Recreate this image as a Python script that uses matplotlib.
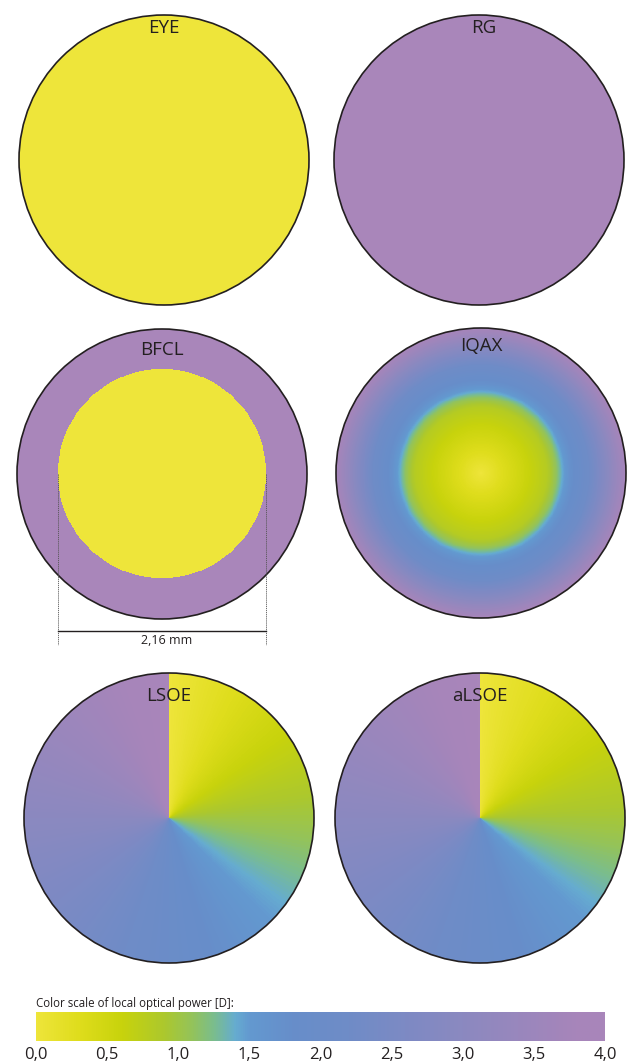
import matplotlib
matplotlib.use("Agg")
import matplotlib.pyplot as plt
import numpy as np
from matplotlib.colors import LinearSegmentedColormap
from matplotlib.patches import Circle

plt.rcParams['font.family'] = ['Open Sans', 'DejaVu Sans']

# pupil and zone sizes (mm)
pupil_diam = 3.0
bfcl_zone = 2.16
zone_label = "2,16 mm"

# panel names and constant powers (D)
panels = ["EYE", "RG", "BFCL", "IQAX", "LSOE", "aLSOE"]
eye_power = 0.0
rg_power = 4.0
bfcl_center = 0.0
bfcl_outer = 4.0

# IQAX radial power profile (radius in mm, power in D)
iqax_r = [0.0, 0.22, 0.45, 0.68, 0.78, 0.84, 0.92, 1.12, 1.30, 1.50]
iqax_p = [0.0, 0.3, 0.55, 0.8, 1.1, 1.4, 1.7, 2.2, 2.9, 3.8]

# LSOE / aLSOE angular power profile (deg clockwise from top, D)
lsoe_ang = [0, 360]
lsoe_pow = [0.0, 4.0]
alsoe_ang = [0, 90, 130, 180, 270, 360]
alsoe_pow = [0.0, 0.95, 1.45, 2.0, 3.0, 4.0]

# colour scale
scale_ticks = [0.0, 0.5, 1.0, 1.5, 2.0, 2.5, 3.0, 3.5, 4.0]
scale_labels = ["0,0", "0,5", "1,0", "1,5", "2,0", "2,5", "3,0", "3,5", "4,0"]
scale_title = "Color scale of local optical power [D]:"

cmap = LinearSegmentedColormap.from_list("power", [
    (0.0 / 4, "#EEE53A"), (0.3 / 4, "#DFDD1C"), (0.6 / 4, "#C8D30C"),
    (0.9 / 4, "#ACC82E"), (1.1 / 4, "#93C35C"), (1.25 / 4, "#7ABD8E"),
    (1.4 / 4, "#66ACD0"), (1.5 / 4, "#6399D0"), (1.8 / 4, "#678ECA"),
    (2.2 / 4, "#6F8CC7"), (2.6 / 4, "#7D8AC4"), (3.0 / 4, "#8B89C0"),
    (3.4 / 4, "#9987BD"), (3.8 / 4, "#A785BA"), (4.0 / 4, "#A986BA"),
])

W, H = 633, 1063
fig = plt.figure(figsize=(W / 100, H / 100), dpi=100)

R = pupil_diam / 2
n = 600
g = np.linspace(-R, R, n)
X, Y = np.meshgrid(g, g)
rr = np.hypot(X, Y)
th = np.degrees(np.arctan2(X, Y)) % 360

fields = {
    "EYE": np.full_like(rr, eye_power),
    "RG": np.full_like(rr, rg_power),
    "BFCL": np.where(rr <= bfcl_zone / 2, bfcl_center, bfcl_outer),
    "IQAX": np.interp(rr, iqax_r, iqax_p),
    "LSOE": np.interp(th, lsoe_ang, lsoe_pow),
    "aLSOE": np.interp(th, alsoe_ang, alsoe_pow),
}

# centre of each circle in pixels (x, y from top) and title offset
centers = {"EYE": (164, 160), "RG": (479, 160), "BFCL": (162, 474),
           "IQAX": (481, 473), "LSOE": (169, 818), "aLSOE": (480, 818)}
title_y = {"EYE": 1.37, "RG": 1.37, "BFCL": 1.28, "IQAX": 1.31,
           "LSOE": 1.26, "aLSOE": 1.26}

box = 300
lim = R * (box / 2) / 145

for name in panels:
    cx, cy = centers[name]
    ax = fig.add_axes([(cx - box / 2) / W, 1 - (cy + box / 2) / H, box / W, box / H])
    ax.set_xlim(-lim, lim)
    ax.set_ylim(-lim, lim)
    ax.axis("off")
    clip = Circle((0, 0), R, transform=ax.transData, facecolor="none", edgecolor="none")
    ax.add_patch(clip)
    im = ax.imshow(fields[name], cmap=cmap, vmin=0, vmax=4, origin="lower",
                   extent=[-R, R, -R, R], interpolation="nearest")
    im.set_clip_path(clip)
    ax.add_patch(Circle((0, 0), R, facecolor="none", edgecolor="#231f20", lw=1.2, zorder=3))
    dx = 0.05 if name == "RG" else 0.0
    ax.text(dx, title_y[name], name, ha="center", va="center", fontsize=13.5,
            color="#231f20", zorder=4)

    if name == "BFCL":
        h = bfcl_zone / 2
        for xv in (-h, h):
            ax.plot([xv, xv], [0.0, -1.77], color="#555555", lw=0.6,
                    ls=(0, (1.5, 1)), clip_on=False, zorder=4)
        ax.plot([-h, h], [-1.62, -1.62], color="#231f20", lw=1.0, clip_on=False, zorder=4)
        ax.text(0.05, -1.72, zone_label, ha="center", va="center", fontsize=9,
                color="#231f20")

# colour scale bar
cax = fig.add_axes([36 / W, 1 - 1041 / H, (605 - 36) / W, 29 / H])
cax.imshow(np.linspace(0, 4, 512)[None, :], cmap=cmap, vmin=0, vmax=4,
           extent=[0, 4, 0, 1], aspect="auto")
cax.set_xticks(scale_ticks)
cax.set_xticklabels(scale_labels, fontsize=12, color="#231f20")
for lbl in cax.get_xticklabels():
    lbl.set_verticalalignment("center")
cax.tick_params(axis="x", length=0, pad=10)
cax.set_yticks([])
for s in cax.spines.values():
    s.set_visible(False)
cax.text(0, 1.28, scale_title, transform=cax.transAxes, ha="left", va="center",
         fontsize=8.3, color="#231f20")

fig.savefig("out.png", dpi=100)
